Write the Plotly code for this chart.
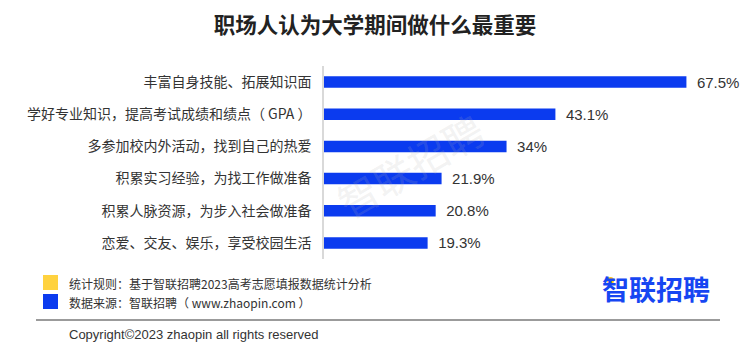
import plotly.graph_objects as go

categories = [
    "丰富自身技能、拓展知识面",
    "学好专业知识，提高考试成绩和绩点（ GPA ）",
    "多参加校内外活动，找到自己的热爱",
    "积累实习经验，为找工作做准备",
    "积累人脉资源，为步入社会做准备",
    "恋爱、交友、娱乐，享受校园生活",
]
values = [67.5, 43.1, 34, 21.9, 20.8, 19.3]
value_labels = ["67.5%", "43.1%", "34%", "21.9%", "20.8%", "19.3%"]

FONT = "Noto Sans CJK SC, Noto Sans, sans-serif"
BLUE = "#0B3BEF"

fig = go.Figure(go.Bar(
    x=values, y=categories, orientation="h",
    marker=dict(color=BLUE, line=dict(width=0)),
    text=value_labels, texttemplate="\u2002%{text}", textposition="outside", cliponaxis=False,
    constraintext="none",
    textfont=dict(size=15, color="#333333", family="Liberation Sans, Arial, sans-serif"),
    width=0.36,
))

fig.update_layout(
    width=750, height=348,
    margin=dict(l=324, r=26, t=66, b=89),
    paper_bgcolor="white", plot_bgcolor="white",
    showlegend=False,
    font=dict(family=FONT),
    title=dict(text="<b>职场人认为大学期间做什么最重要</b>", x=0.5, xanchor="center",
               y=1 - 25/348, yanchor="middle",
               font=dict(size=21.5, color="#222222", family=FONT)),
)
fig.update_xaxes(range=[0, 74.5], visible=False, showgrid=False, zeroline=False)
fig.update_yaxes(autorange="reversed", showline=True, linecolor="#d9d9d9", linewidth=1.5,
                 ticks="", ticklabelstandoff=8, showgrid=False,
                 tickfont=dict(size=14, color="#333333", family=FONT))


def px(x):
    return (x - 324) / 400


def py(y):
    return (259 - y) / 193


shapes = [
    dict(type="rect", xref="paper", yref="paper", x0=px(43), x1=px(58), y0=py(290), y1=py(275),
         line=dict(width=0), fillcolor="#FFD23F"),
    dict(type="rect", xref="paper", yref="paper", x0=px(43), x1=px(58), y0=py(309), y1=py(294),
         line=dict(width=0), fillcolor="#0B3BEF"),
    dict(type="line", xref="paper", yref="paper", x0=px(36), x1=px(720), y0=py(320), y1=py(320),
         line=dict(width=1.5, color="#7a7a7a")),
    dict(type="circle", xref="paper", yref="paper", x0=px(607), x1=px(614), y0=py(284), y1=py(277),
         line=dict(width=0), fillcolor="#FFC51A"),
]
fig.update_layout(shapes=shapes)

annotations = [
    dict(text="统计规则：基于智联招聘2023高考志愿填报数据统计分析", x=px(67), y=py(283),
         xanchor="left", yanchor="middle", font=dict(size=12, color="#333333")),
    dict(text="数据来源：智联招聘（ www.zhaopin.com ）", x=px(67), y=py(302),
         xanchor="left", yanchor="middle", font=dict(size=12, color="#333333")),
    dict(text="Copyright©2023 zhaopin all rights reserved", x=px(67), y=py(334),
         xanchor="left", yanchor="middle",
         font=dict(size=13, color="#333333", family="Liberation Sans Narrow, Liberation Sans, Arial")),
    dict(text="<b>智联招聘</b>", x=px(656), y=py(288), xanchor="center", yanchor="middle",
         font=dict(size=27, color="#1646F2")),
    dict(text="智联招聘", x=px(410), y=py(165), xanchor="center", yanchor="middle", textangle=-30,
         font=dict(size=40, color="rgba(180,180,180,0.18)")),
]
for a in annotations:
    a.update(xref="paper", yref="paper", showarrow=False)
fig.update_layout(annotations=annotations)

fig.write_html("out.html")
